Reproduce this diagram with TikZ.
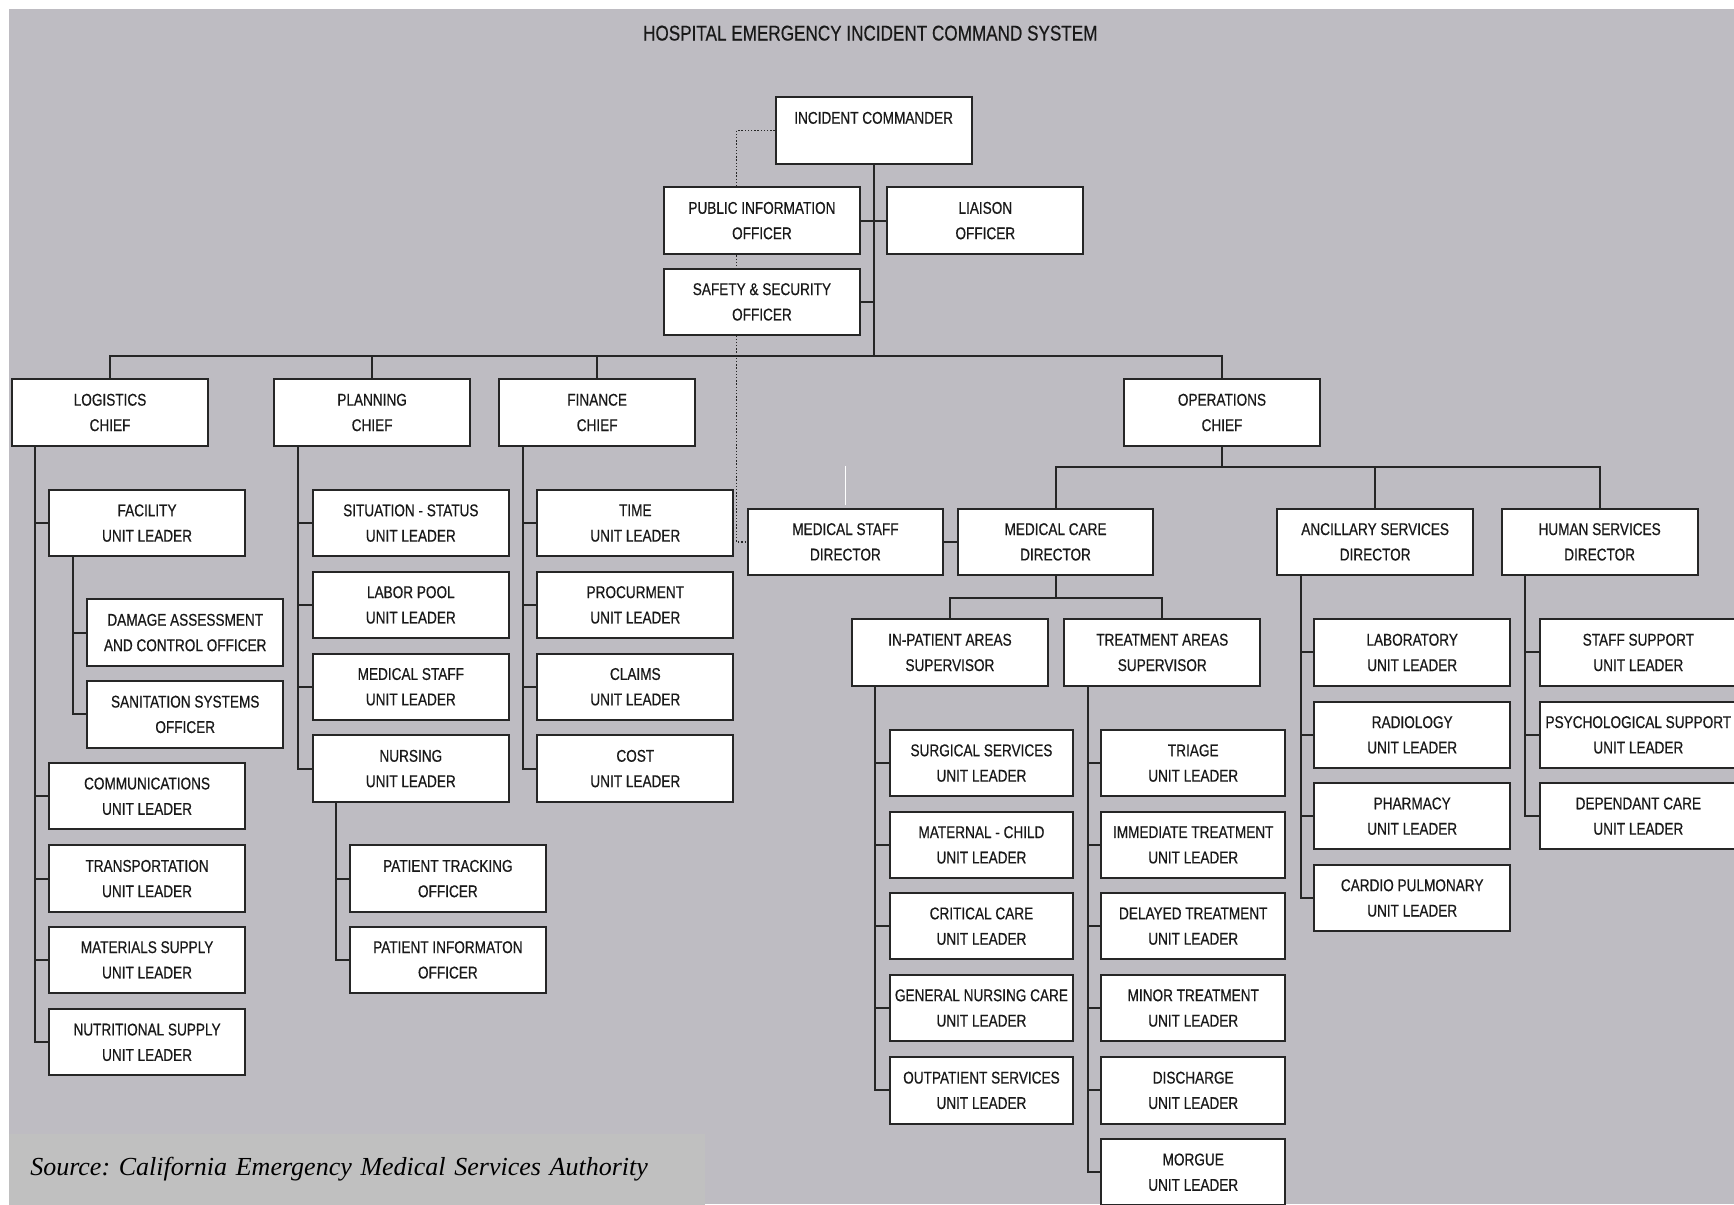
\documentclass[tikz,border=0pt]{standalone}
\usepackage{fontspec}
\setmainfont{Liberation Sans}
\newfontfamily\boxfont[FakeStretch=0.8,FakeBold=0.5]{Liberation Sans}
\newfontfamily\srcfont{Liberation Serif}
\usetikzlibrary{calc}
\definecolor{bgc}{RGB}{190,188,194}
\definecolor{srcc}{RGB}{192,192,192}
\definecolor{linec}{RGB}{38,38,38}
\newcommand\pxu{0.5529pt}
\pgfdeclarelayer{bgzero}
\pgfdeclarelayer{bgone}
\pgfsetlayers{bgzero,bgone,main}
\newcommand\mkrail[3]{%
  \coordinate (#1r) at ($(#1.south west)+(22,0)$);
  \draw[conn] (#1r) |- (#2.west);
  \foreach \ch in {#3} {\draw[conn] (#1r |- \ch.west) -- (\ch.west);}
}
\begin{document}
\begin{tikzpicture}[x=0.5529pt,y=-0.5529pt,
  box/.style={draw=linec, line width=1pt, fill=white, minimum width=177*\pxu,
    minimum height=60*\pxu, inner sep=0pt, align=center,
    font=\boxfont\fontsize{8.5}{12.7}\selectfont, text=black!90},
  nbox/.style={box, minimum width=166*\pxu},
  conn/.style={draw=linec, line width=1pt},
  dotline/.style={draw=linec, line width=0.7pt, dash pattern=on 0.7pt off 0.9pt}]
\useasboundingbox (0,0) rectangle (1568,1089);
\clip (0,0) rectangle (1568,1089);
\begin{pgfonlayer}{bgzero}
\fill[white] (0,0) rectangle (1568,1089);
\fill[bgc] (8,8) rectangle (1568,1089);
\end{pgfonlayer}

\node[font=\boxfont\fontsize{10.7}{13}\selectfont, text=black!90] (title) at (787,30) {HOSPITAL EMERGENCY INCIDENT COMMAND SYSTEM};

% top level
\node[box] (ic) at (790,118) {INCIDENT COMMANDER\\\phantom{X}};
\node[box] (pio) at (689,199.5) {PUBLIC INFORMATION\\OFFICER};
\node[box] (liaison) at (891,199.5) {LIAISON\\OFFICER};
\node[box] (safety) at (689,273) {SAFETY \& SECURITY\\OFFICER};
\node[box] (log) at (99.5,373) {LOGISTICS\\CHIEF};
\node[box] (plan) at (336.5,373) {PLANNING\\CHIEF};
\node[box] (fin) at (540,373) {FINANCE\\CHIEF};
\node[box] (ops) at (1105,373) {OPERATIONS\\CHIEF};

% logistics
\node[box] (fac) at (133,473) {FACILITY\\UNIT LEADER};
\node[box] (dmg) at (167.5,572) {DAMAGE ASSESSMENT\\AND CONTROL OFFICER};
\node[box] (san) at (167.5,646) {SANITATION SYSTEMS\\OFFICER};
\node[box] (comm) at (133,720) {COMMUNICATIONS\\UNIT LEADER};
\node[box] (trans) at (133,794.5) {TRANSPORTATION\\UNIT LEADER};
\node[box] (matl) at (133,868) {MATERIALS SUPPLY\\UNIT LEADER};
\node[box] (nutr) at (133,942.5) {NUTRITIONAL SUPPLY\\UNIT LEADER};

% planning
\node[box] (sit) at (371.5,473) {SITUATION - STATUS\\UNIT LEADER};
\node[box] (labor) at (371.5,547) {LABOR POOL\\UNIT LEADER};
\node[box] (medstaff) at (371.5,621) {MEDICAL STAFF\\UNIT LEADER};
\node[box] (nurs) at (371.5,695) {NURSING\\UNIT LEADER};
\node[box] (ptrack) at (405,794.5) {PATIENT TRACKING\\OFFICER};
\node[box] (pinfo) at (405,868) {PATIENT INFORMATON\\OFFICER};

% finance
\node[box] (time) at (574.5,473) {TIME\\UNIT LEADER};
\node[box] (proc) at (574.5,547) {PROCURMENT\\UNIT LEADER};
\node[box] (claims) at (574.5,621) {CLAIMS\\UNIT LEADER};
\node[box] (cost) at (574.5,695) {COST\\UNIT LEADER};

% operations
\node[box] (msd) at (764.5,490) {MEDICAL STAFF\\DIRECTOR};
\node[box] (mcd) at (954.5,490) {MEDICAL CARE\\DIRECTOR};
\node[box] (anc) at (1243.5,490) {ANCILLARY SERVICES\\DIRECTOR};
\node[box] (hum) at (1446.5,490) {HUMAN SERVICES\\DIRECTOR};
\node[box] (inpt) at (859,590) {IN-PATIENT AREAS\\SUPERVISOR};
\node[box] (treat) at (1051,590) {TREATMENT AREAS\\SUPERVISOR};

\node[nbox] (surg) at (887.5,690) {SURGICAL SERVICES\\UNIT LEADER};
\node[nbox] (matc) at (887.5,764) {MATERNAL - CHILD\\UNIT LEADER};
\node[nbox] (crit) at (887.5,837.5) {CRITICAL CARE\\UNIT LEADER};
\node[nbox] (gnc) at (887.5,911.5) {GENERAL NURSING CARE\\UNIT LEADER};
\node[nbox] (outp) at (887.5,986) {OUTPATIENT SERVICES\\UNIT LEADER};

\node[nbox] (triage) at (1079,690) {TRIAGE\\UNIT LEADER};
\node[nbox] (immed) at (1079,764) {IMMEDIATE TREATMENT\\UNIT LEADER};
\node[nbox] (delay) at (1079,837.5) {DELAYED TREATMENT\\UNIT LEADER};
\node[nbox] (minor) at (1079,911.5) {MINOR TREATMENT\\UNIT LEADER};
\node[nbox] (disch) at (1079,986) {DISCHARGE\\UNIT LEADER};
\node[nbox] (morgue) at (1079,1060) {MORGUE\\UNIT LEADER};

\node[box] (lab) at (1277,590) {LABORATORY\\UNIT LEADER};
\node[box] (rad) at (1277,664.5) {RADIOLOGY\\UNIT LEADER};
\node[box] (pharm) at (1277,738) {PHARMACY\\UNIT LEADER};
\node[box] (cardio) at (1277,812) {CARDIO PULMONARY\\UNIT LEADER};

\node[box] (staff) at (1481.5,590) {STAFF SUPPORT\\UNIT LEADER};
\node[box] (psych) at (1481.5,664.5) {PSYCHOLOGICAL SUPPORT\\UNIT LEADER};
\node[box] (dep) at (1481.5,738) {DEPENDANT CARE\\UNIT LEADER};

% source
\node[anchor=north west, fill=srcc, minimum height=64*\pxu, text width=591*\pxu,
  inner xsep=19*\pxu, inner ysep=0pt, align=left,
  font=\srcfont\itshape\fontsize{13}{15}\selectfont\frenchspacing] (src) at (8,1025)
  {Source: California Emergency Medical Services Authority};

\begin{pgfonlayer}{bgone}
% dotted staff line
\coordinate (dotc) at (666,118);
\draw[dotline] (ic.west) -- (dotc) |- (msd.west);
% main spine and bus
\coordinate (bus) at (790,322);
\draw[conn] (ic.south) -- (bus);
\draw[conn] (pio.east) -- (liaison.west);
\draw[conn] (safety.east) -- (safety.east -| bus);
\draw[conn] (log.north) |- (bus) -| (ops.north);
\draw[conn] (plan.north) -- (plan.north |- bus);
\draw[conn] (fin.north) -- (fin.north |- bus);
% operations bus
\coordinate (opsbus) at (1105,422);
\draw[conn] (ops.south) -- (opsbus);
\draw[conn] (mcd.north) |- (opsbus) -| (hum.north);
\draw[conn] (anc.north) -- (anc.north |- opsbus);
\draw[conn] (msd.east) -- (mcd.west);
\draw[white, line width=0.6pt] ($(msd.north)+(0,-2)$) -- ($(msd.north)+(0,-38)$);
% medical care bus
\coordinate (mcbus) at (954.5,541);
\draw[conn] (mcd.south) -- (mcbus);
\draw[conn] (inpt.north) |- (mcbus) -| (treat.north);
% rails
\mkrail{log}{nutr}{fac,comm,trans,matl}
\mkrail{fac}{san}{dmg}
\mkrail{plan}{nurs}{sit,labor,medstaff}
\mkrail{nurs}{pinfo}{ptrack}
\mkrail{fin}{cost}{time,proc,claims}
\mkrail{inpt}{outp}{surg,matc,crit,gnc}
\mkrail{treat}{morgue}{triage,immed,delay,minor,disch}
\mkrail{anc}{cardio}{lab,rad,pharm}
\mkrail{hum}{dep}{staff,psych}
\end{pgfonlayer}
\end{tikzpicture}
\end{document}
